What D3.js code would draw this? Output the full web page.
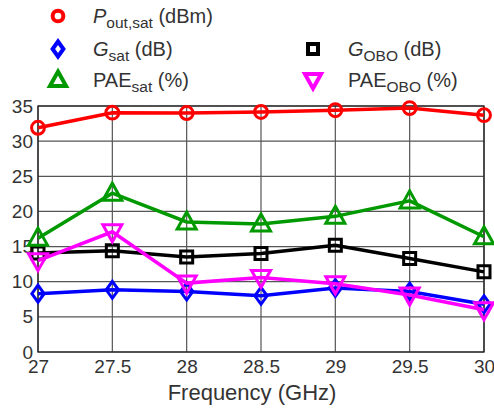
<!DOCTYPE html>
<html>
<head>
<meta charset="utf-8">
<script src="https://cdn.jsdelivr.net/npm/d3@7"></script>
<style>
body { margin: 0; background: #fff; }
svg text { font-family: "Liberation Sans", Arial, sans-serif; fill: #333; }
</style>
</head>
<body>
<script>
var freq = [27, 27.5, 28, 28.5, 29, 29.5, 30]
var pout = [31.9, 34.05, 34.0, 34.15, 34.4, 34.7, 33.7]
var gsat = [8.3, 8.85, 8.6, 8.0, 9.1, 8.6, 6.8]
var gobo = [14.1, 14.4, 13.5, 14.0, 15.2, 13.3, 11.4]
var paeSat = [16.2, 22.6, 18.5, 18.2, 19.3, 21.5, 16.4]
var paeObo = [13.0, 17.1, 9.8, 10.6, 9.7, 8.1, 6.0]
var yTicks = [0, 5, 10, 15, 20, 25, 30, 35]

var width = 494
height = 412
margin = {left: 38, right: 10, top: 106, bottom: 60}

var svg = d3.select("body")
    .append("svg")
        .attr("width", width)
        .attr("height", height)

var x = d3.scaleLinear().domain([27, 30]).range([margin.left, 484])
var y = d3.scaleLinear().domain([0, 35]).range([352, margin.top])

// grid
svg.selectAll('vgrid')
    .data(freq)
    .enter()
    .append('line')
        .attr('x1', function(d) { return x(d) })
        .attr('x2', function(d) { return x(d) })
        .attr('y1', y(0))
        .attr('y2', y(35))
        .attr('stroke', '#555')
        .attr('stroke-width', 1.2)
svg.selectAll('hgrid')
    .data(yTicks)
    .enter()
    .append('line')
        .attr('x1', x(27))
        .attr('x2', x(30))
        .attr('y1', function(d) { return y(d) })
        .attr('y2', function(d) { return y(d) })
        .attr('stroke', '#555')
        .attr('stroke-width', 1.2)

svg.append('rect')
    .attr('x', x(27))
    .attr('y', y(35))
    .attr('width', x(30) - x(27))
    .attr('height', y(0) - y(35))
    .attr('fill', 'none')
    .attr('stroke', '#222')
    .attr('stroke-width', 1.3)

// tick labels
var xAxis = svg.append('g')
    .attr('transform', 'translate(0,' + y(0) + ')')
    .call(d3.axisBottom(x).tickValues(freq).tickSize(0).tickPadding(8).tickFormat(d3.format('')))
xAxis.attr('font-family', null).attr('font-size', null)
xAxis.select('.domain').remove()
xAxis.selectAll('text').style('font-size', '19px').attr('fill', '#333')

var yAxis = svg.append('g')
    .attr('transform', 'translate(' + x(27) + ',0)')
    .call(d3.axisLeft(y).tickValues(yTicks).tickSize(0).tickPadding(5))
yAxis.attr('font-family', null).attr('font-size', null)
yAxis.select('.domain').remove()
yAxis.selectAll('text').style('font-size', '19px').attr('fill', '#333')

svg.append('text')
    .attr('x', 252)
    .attr('y', 400)
    .attr('text-anchor', 'middle')
    .style('font-size', '22px')
    .text('Frequency (GHz)')

// markers
var sym = {
    circle: function(s) { return d3.symbol().type(d3.symbolCircle).size(s)() },
    diamond: function(s) { return 'M0,' + (-s) + 'L' + (s * 0.72) + ',0L0,' + s + 'L' + (-s * 0.72) + ',0Z' },
    square: function(s) { return 'M' + (-s) + ',' + (-s) + 'H' + s + 'V' + s + 'H' + (-s) + 'Z' },
    up: function(s) { return 'M0,' + (-s) + 'L' + (s * 0.95) + ',' + (s * 0.7) + 'L' + (-s * 0.95) + ',' + (s * 0.7) + 'Z' },
    down: function(s) { return 'M0,' + s + 'L' + (s * 0.95) + ',' + (-s * 0.7) + 'L' + (-s * 0.95) + ',' + (-s * 0.7) + 'Z' }
}

var series = [
    {vals: pout, color: '#ff0000', marker: function() { return sym.circle(130) }},
    {vals: gsat, color: '#0000ff', marker: function() { return sym.diamond(8.5) }},
    {vals: gobo, color: '#000000', marker: function() { return sym.square(6) }},
    {vals: paeSat, color: '#009900', marker: function() { return sym.up(10) }},
    {vals: paeObo, color: '#ff00ff', marker: function() { return sym.down(10) }}
]

var line = d3.line()
    .x(function(d, i) { return x(freq[i]) })
    .y(function(d) { return y(d) })

series.forEach(function(s) {
    svg.append('path')
        .attr('d', line(s.vals))
        .attr('fill', 'none')
        .attr('stroke', s.color)
        .attr('stroke-width', 3.5)
    svg.selectAll('m')
        .data(s.vals)
        .enter()
        .append('path')
            .attr('transform', function(d, i) { return 'translate(' + x(freq[i]) + ',' + y(d) + ')' })
            .attr('d', s.marker())
            .attr('fill', 'none')
            .attr('stroke', s.color)
            .attr('stroke-width', 3)
})

// legend
var legend = [
    {m: sym.circle(90), color: '#ff0000', lx: 58, ly: 16, main: 'P', italic: true, sub: 'out,sat', unit: ' (dBm)'},
    {m: sym.diamond(7.5), color: '#0000ff', lx: 58, ly: 49, main: 'G', italic: true, sub: 'sat', unit: ' (dB)'},
    {m: sym.up(8.5), color: '#009900', lx: 58, ly: 80, main: 'PAE', italic: false, sub: 'sat', unit: ' (%)'},
    {m: sym.square(5), color: '#000000', lx: 313, ly: 49, main: 'G', italic: true, sub: 'OBO', unit: ' (dB)'},
    {m: sym.down(8.5), color: '#ff00ff', lx: 313, ly: 80, main: 'PAE', italic: false, sub: 'OBO', unit: ' (%)'}
]

legend.forEach(function(l) {
    svg.append('path')
        .attr('transform', 'translate(' + l.lx + ',' + l.ly + ')')
        .attr('d', l.m)
        .attr('fill', 'none')
        .attr('stroke', l.color)
        .attr('stroke-width', 4)
    var t = svg.append('text')
        .attr('x', l.lx + 35)
        .attr('y', l.ly + 7)
        .style('font-size', '20px')
    t.append('tspan').text(l.main).style('font-style', l.italic ? 'italic' : 'normal')
    t.append('tspan').text(l.sub).attr('dy', 5).style('font-size', '15.5px')
    t.append('tspan').text(l.unit).attr('dy', -5)
})
</script>
</body>
</html>
